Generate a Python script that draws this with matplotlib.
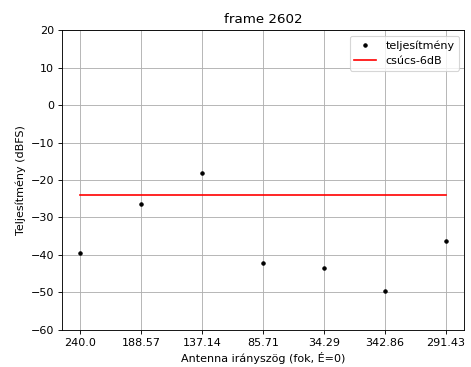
import numpy as np
import matplotlib
matplotlib.use("Agg")
import matplotlib.pyplot as plt

angles = ["240.0", "188.57", "137.14", "85.71", "34.29", "342.86", "291.43"]
power = [-39.4, -26.4, -18.1, -42.2, -43.5, -49.6, -36.2]
peak_minus_6 = max(power) - 6

dpi = 80
fig, ax = plt.subplots(figsize=(471 / dpi, 367 / dpi), dpi=dpi)
x = np.arange(len(angles))
ax.plot(x, power, "k.", label="teljesítmény")
ax.plot([x[0], x[-1]], [peak_minus_6, peak_minus_6], "r-", label="csúcs-6dB")
ax.set_xticks(x)
ax.set_xticklabels(angles)
ax.set_ylim(-60, 20)
ax.grid(True)
ax.set_title("frame 2602")
ax.set_xlabel("Antenna irányszög (fok, É=0)")
ax.set_ylabel("Teljesítmény (dBFS)")
ax.legend(loc="upper right")
fig.subplots_adjust(left=0.131, right=0.986, top=0.918, bottom=0.101)
fig.savefig("out.png", dpi=dpi)
